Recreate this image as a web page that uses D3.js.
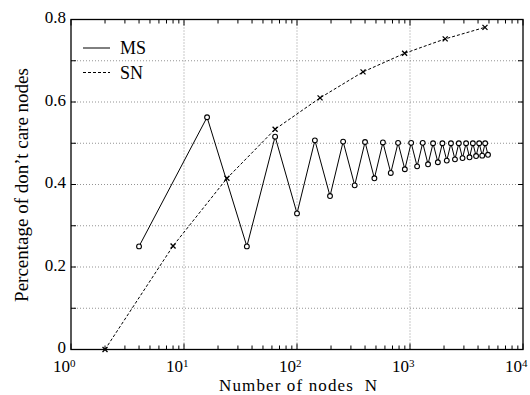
<!DOCTYPE html>
<html>
<head>
<meta charset="utf-8">
<script src="https://cdn.jsdelivr.net/npm/d3@7"></script>
<style>
    body { margin: 0; background: #fff; }
    svg { display: block; font-family: "Liberation Serif", "DejaVu Serif", serif; }
</style>
</head>
<body>
<div id="chart"></div>
<script>
// MS series (circles)
const msN = [4, 16, 36, 64, 100, 144, 196, 256, 324, 400, 484, 576, 676, 784, 900,
    1024, 1156, 1296, 1444, 1600, 1764, 1936, 2116, 2304, 2500, 2704, 2916, 3136,
    3364, 3600, 3844, 4096, 4356, 4624, 4900];
const msVal = [0.250, 0.563, 0.250, 0.516, 0.330, 0.507, 0.372, 0.504, 0.398, 0.503,
    0.415, 0.502, 0.428, 0.501, 0.437, 0.501, 0.444, 0.501, 0.449, 0.500, 0.454, 0.500,
    0.458, 0.500, 0.461, 0.500, 0.464, 0.500, 0.466, 0.500, 0.469, 0.500, 0.470, 0.500, 0.472];

// SN series (x markers)
const snN = [2, 8, 24, 64, 160, 384, 896, 2048, 4608];
const snVal = [0, 0.251, 0.415, 0.534, 0.610, 0.673, 0.718, 0.753, 0.781];

const yTickLabels = ['0', '0.2', '0.4', '0.6', '0.8'];
const xTickExps = ['0', '1', '2', '3', '4'];

const width = 530;
const height = 395;
const margin = { left: 71, right: 7, top: 19.5, bottom: 45.5 };

const svg = d3.select('#chart')
    .append('svg')
    .attr('width', width)
    .attr('height', height);

const x = d3.scaleLog()
    .domain([1, 1e4])
    .range([margin.left, width - margin.right]);

const y = d3.scaleLinear()
    .domain([0, 0.8])
    .range([height - margin.bottom, margin.top]);

const x0 = x.range()[0], x1 = x.range()[1];
const y0 = y.range()[0], y1 = y.range()[1];

// Grid lines (dotted)
const grid = svg.append('g')
    .attr('stroke', '#666')
    .attr('stroke-width', 0.7)
    .attr('stroke-dasharray', '1,2');

grid.selectAll('.gy')
    .data(d3.range(1, 8).map(d => d / 10))
    .enter()
    .append('line')
    .attr('x1', x0).attr('x2', x1)
    .attr('y1', d => y(d)).attr('y2', d => y(d));

grid.selectAll('.gx')
    .data([10, 100, 1000])
    .enter()
    .append('line')
    .attr('x1', d => x(d)).attr('x2', d => x(d))
    .attr('y1', y0).attr('y2', y1);

// Ticks
const ticks = svg.append('g').attr('stroke', '#000').attr('stroke-width', 1);
const yt = d3.range(0, 9).map(d => d / 10);
yt.forEach(v => {
    ticks.append('line').attr('x1', x0).attr('x2', x0 + 5).attr('y1', y(v)).attr('y2', y(v));
    ticks.append('line').attr('x1', x1).attr('x2', x1 - 5).attr('y1', y(v)).attr('y2', y(v));
});
const xt = x.ticks();
xt.forEach(v => {
    const major = Math.abs(Math.log10(v) - Math.round(Math.log10(v))) < 1e-9;
    const len = major ? 6 : 4;
    ticks.append('line').attr('x1', x(v)).attr('x2', x(v)).attr('y1', y0).attr('y2', y0 - len);
    ticks.append('line').attr('x1', x(v)).attr('x2', x(v)).attr('y1', y1).attr('y2', y1 + len);
});

// Frame
svg.append('rect')
    .attr('x', x0).attr('y', y1)
    .attr('width', x1 - x0).attr('height', y0 - y1)
    .attr('fill', 'none')
    .attr('stroke', '#000')
    .attr('stroke-width', 1.3);

// Y tick labels
svg.selectAll('.ylab')
    .data(yTickLabels)
    .enter()
    .append('text')
    .attr('x', 66)
    .attr('y', d => y(+d))
    .attr('dy', '0.22em')
    .attr('text-anchor', 'end')
    .style('font-size', '17px')
    .text(d => d);

// X tick labels (10^k)
xTickExps.forEach(e => {
    const t = svg.append('text')
        .attr('x', x(Math.pow(10, +e)) - 18)
        .attr('y', 372)
        .style('font-size', '17px');
    t.append('tspan').text('10');
    t.append('tspan').attr('dy', -5).style('font-size', '11px').text(e);
});

// Axis titles
svg.append('text')
    .attr('x', 298)
    .attr('y', 391)
    .attr('text-anchor', 'middle')
    .attr('textLength', 158)
    .attr('lengthAdjust', 'spacing')
    .style('font-size', '17px')
    .style('white-space', 'pre')
    .text('Number of nodes\u00a0\u00a0N');

svg.append('text')
    .attr('transform', 'translate(28,185) rotate(-90)')
    .attr('text-anchor', 'middle')
    .style('font-size', '19px')
    .text('Percentage of don\u2019t care nodes');

// Lines
const line = d3.line()
    .x(d => x(d[0]))
    .y(d => y(d[1]));

const msData = msN.map((n, i) => [n, msVal[i]]);
const snData = snN.map((n, i) => [n, snVal[i]]);

svg.append('path')
    .datum(snData)
    .attr('d', line)
    .attr('fill', 'none')
    .attr('stroke', '#000')
    .attr('stroke-width', 1)
    .attr('stroke-dasharray', '3,2');

svg.append('path')
    .datum(msData)
    .attr('d', line)
    .attr('fill', 'none')
    .attr('stroke', '#000')
    .attr('stroke-width', 1);

// Markers
svg.selectAll('.ms')
    .data(msData)
    .enter()
    .append('circle')
    .attr('cx', d => x(d[0]))
    .attr('cy', d => y(d[1]))
    .attr('r', 2.4)
    .attr('fill', '#fff')
    .attr('stroke', '#000')
    .attr('stroke-width', 1.1);

const s = 2.5;
svg.selectAll('.sn')
    .data(snData)
    .enter()
    .append('path')
    .attr('d', d => {
        const cx = x(d[0]), cy = y(d[1]);
        return `M${cx - s},${cy - s}L${cx + s},${cy + s}M${cx - s},${cy + s}L${cx + s},${cy - s}`;
    })
    .attr('stroke', '#000')
    .attr('stroke-width', 1.3);

// Legend
const legend = svg.append('g');
legend.append('line')
    .attr('x1', 83).attr('x2', 110).attr('y1', 48).attr('y2', 48)
    .attr('stroke', '#000').attr('stroke-width', 1);
legend.append('text')
    .attr('x', 120).attr('y', 48).attr('dy', '0.35em')
    .style('font-size', '18px').text('MS');
legend.append('line')
    .attr('x1', 83).attr('x2', 110).attr('y1', 72.5).attr('y2', 72.5)
    .attr('stroke', '#000').attr('stroke-width', 1)
    .attr('stroke-dasharray', '3,2');
legend.append('text')
    .attr('x', 120).attr('y', 72.5).attr('dy', '0.35em')
    .style('font-size', '18px').text('SN');
</script>
</body>
</html>
